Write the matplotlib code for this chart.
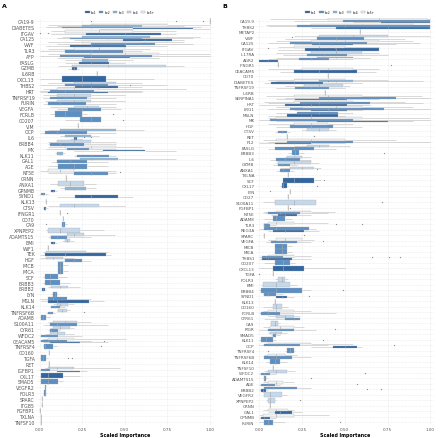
import matplotlib
matplotlib.use("Agg")
import matplotlib.pyplot as plt
from matplotlib.patches import Patch

# ---------------- data ----------------
features_A = ["CA19-9", "DIABETES", "ITGAV", "CA125", "VWF", "TLR3", "AFP", "FASLG", "GZMB", "IL6RB",
              "CXCL13", "THBS2", "HRT", "TNFRSF19", "FURIN", "VEGFA", "FCRLB", "CD207", "VIM", "OCP",
              "IL6", "ERBB4", "MK", "KLK11", "GAL1", "AGE", "NT5E", "CRNN", "ANXA1", "GPNMB",
              "SYND1", "KLK13", "CTSV", "IFNGR1", "CD70", "CA9", "XPNPEP2", "ADAMTS15", "BMI", "WIF1",
              "TEK", "HGF", "MICB", "MICA", "SCF", "ERBB3", "ERBB2", "LYN", "MSLN", "KLK14",
              "TNFRSF6B", "ADAM8", "S100A11", "CYR61", "WFDC2", "CEACAM5", "TNFRSF4", "CD160", "TGFA", "RET",
              "IGFBP1", "CXL17", "SMAD5", "VEGFR2", "FOLR3", "SPARC", "ITGB5", "FGFBP1", "TXLNA", "TNFSF10"]

# (whisker low, q1, median, q3, whisker high)
A_k1 = {
    "CA19-9": (1.0, 1.0, 1.0, 1.0, 1.0), "DIABETES": (0.35, 0.55, 0.72, 0.90, 1.0),
    "ITGAV": (0.07, 0.27, 0.50, 0.71, 0.80), "CA125": (0.20, 0.49, 0.62, 0.78, 0.85),
    "VWF": (0.04, 0.18, 0.30, 0.51, 0.75), "AFP": (0.10, 0.26, 0.40, 0.53, 0.70),
    "FASLG": (0.15, 0.23, 0.30, 0.41, 0.50), "GZMB": (0.17, 0.19, 0.20, 0.22, 0.23),
    "IL6RB": (0.34, 0.34, 0.34, 0.34, 0.34), "CXCL13": (0.0, 0.13, 0.25, 0.39, 0.67),
    "THBS2": (0.10, 0.21, 0.30, 0.46, 0.60), "HRT": (0.0, 0.05, 0.25, 0.40, 0.60),
    "VIM": (0.225, 0.225, 0.225, 0.225, 0.225), "IL6": (0.18, 0.20, 0.21, 0.22, 0.25),
    "MK": (0.20, 0.37, 0.45, 0.62, 0.80), "CRNN": (0.155, 0.155, 0.155, 0.155, 0.155),
    "GPNMB": (0.06, 0.07, 0.08, 0.09, 0.10), "SYND1": (0.10, 0.21, 0.30, 0.46, 0.55),
    "KLK13": (0.04, 0.04, 0.04, 0.04, 0.04), "CTSV": (0.02, 0.025, 0.03, 0.04, 0.05),
    "IFNGR1": (0.12, 0.12, 0.12, 0.12, 0.12), "CD70": (0.135, 0.135, 0.135, 0.135, 0.135),
    "BMI": (0.065, 0.07, 0.08, 0.09, 0.10), "WIF1": (0.05, 0.05, 0.05, 0.05, 0.05),
    "TEK": (0.0, 0.03, 0.15, 0.39, 0.42), "ERBB2": (0.01, 0.015, 0.02, 0.03, 0.04),
    "MSLN": (0.01, 0.05, 0.10, 0.29, 0.38), "CEACAM5": (0.02, 0.06, 0.12, 0.24, 0.40),
    "CD160": (0.057, 0.057, 0.057, 0.057, 0.057), "RET": (0.053, 0.053, 0.053, 0.053, 0.053),
    "IGFBP1": (0.10, 0.10, 0.17, 0.24, 0.28), "CXL17": (0.0, 0.01, 0.05, 0.14, 0.24),
    "SPARC": (0.015, 0.015, 0.015, 0.015, 0.015), "ITGB5": (0.015, 0.015, 0.015, 0.015, 0.015),
    "FGFBP1": (0.005, 0.005, 0.005, 0.005, 0.005), "TXLNA": (0.006, 0.006, 0.006, 0.006, 0.006),
    "TNFSF10": (0.006, 0.006, 0.006, 0.006, 0.006),
}
A_k2 = {
    "DIABETES": (0.04, 0.13, 0.30, 0.55, 0.95), "CA125": (0.10, 0.18, 0.40, 0.60, 0.90),
    "VWF": (0.10, 0.30, 0.50, 0.68, 0.90), "TLR3": (0.0, 0.15, 0.30, 0.49, 0.60),
    "AFP": (0.0, 0.12, 0.30, 0.66, 1.0), "THBS2": (0.0, 0.15, 0.25, 0.40, 0.75),
    "HRT": (0.0, 0.06, 0.15, 0.32, 0.60), "TNFRSF19": (0.02, 0.06, 0.15, 0.28, 0.45),
    "FURIN": (0.02, 0.05, 0.12, 0.27, 0.45), "VEGFA": (0.10, 0.17, 0.25, 0.36, 0.48),
    "FCRLB": (0.06, 0.09, 0.15, 0.25, 0.28), "CD207": (0.15, 0.24, 0.30, 0.36, 0.36),
    "OCP": (0.0, 0.03, 0.10, 0.28, 0.45), "ERBB4": (0.05, 0.06, 0.12, 0.26, 0.45),
    "MK": (0.04, 0.16, 0.20, 0.29, 0.45), "KLK11": (0.20, 0.22, 0.30, 0.41, 0.45),
    "GAL1": (0.07, 0.10, 0.18, 0.28, 0.40), "AGE": (0.05, 0.11, 0.20, 0.28, 0.40),
    "NT5E": (0.05, 0.20, 0.30, 0.40, 0.45), "SYND1": (0.0, 0.01, 0.02, 0.03, 0.05),
    "CA9": (0.13, 0.13, 0.14, 0.15, 0.16), "ADAMTS15": (0.05, 0.07, 0.10, 0.16, 0.30),
    "HGF": (0.10, 0.15, 0.20, 0.25, 0.30), "MICB": (0.11, 0.11, 0.12, 0.14, 0.17),
    "MICA": (0.11, 0.11, 0.12, 0.14, 0.17), "SCF": (0.02, 0.03, 0.06, 0.11, 0.16),
    "ERBB3": (0.02, 0.03, 0.06, 0.12, 0.18), "LYN": (0.07, 0.08, 0.09, 0.10, 0.11),
    "MSLN": (0.0, 0.05, 0.08, 0.16, 0.30), "KLK14": (0.06, 0.07, 0.09, 0.12, 0.15),
    "TNFRSF6B": (0.04, 0.05, 0.06, 0.08, 0.09), "ADAM8": (0.0, 0.01, 0.02, 0.04, 0.06),
    "S100A11": (0.02, 0.06, 0.10, 0.22, 0.40), "CYR61": (0.05, 0.06, 0.07, 0.11, 0.12),
    "WFDC2": (0.0, 0.01, 0.03, 0.11, 0.25), "CEACAM5": (0.0, 0.01, 0.05, 0.16, 0.30),
    "TNFRSF4": (0.02, 0.025, 0.03, 0.08, 0.10), "TGFA": (0.0, 0.01, 0.02, 0.04, 0.05),
    "IGFBP1": (0.0, 0.01, 0.03, 0.06, 0.10), "SMAD5": (0.0, 0.01, 0.05, 0.11, 0.14),
    "VEGFR2": (0.025, 0.03, 0.033, 0.036, 0.04), "FOLR3": (0.02, 0.025, 0.03, 0.04, 0.045),
}
A_k3 = {
    "DIABETES": (0.10, 0.25, 0.45, 0.60, 0.85), "CA125": (0.13, 0.25, 0.45, 0.65, 0.94),
    "FASLG": (0.15, 0.25, 0.32, 0.40, 0.55), "OCP": (0.05, 0.12, 0.25, 0.45, 0.61),
    "IL6": (0.12, 0.15, 0.20, 0.30, 0.35), "KLK11": (0.09, 0.10, 0.12, 0.14, 0.15),
    "GAL1": (0.10, 0.24, 0.30, 0.46, 0.80), "GPNMB": (0.12, 0.15, 0.20, 0.27, 0.33),
}
A_k4 = {
    "GZMB": (0.11, 0.19, 0.40, 0.74, 0.85), "THBS2": (0.05, 0.20, 0.30, 0.45, 0.60),
    "TNFRSF19": (0.02, 0.10, 0.20, 0.30, 0.50), "FURIN": (0.03, 0.10, 0.20, 0.30, 0.50),
    "VEGFA": (0.06, 0.20, 0.28, 0.35, 0.45), "ERBB4": (0.05, 0.10, 0.20, 0.30, 0.45),
    "ANXA1": (0.06, 0.11, 0.18, 0.26, 0.33), "CTSV": (0.05, 0.12, 0.20, 0.35, 0.50),
    "XPNPEP2": (0.04, 0.05, 0.12, 0.24, 0.38), "ADAMTS15": (0.06, 0.16, 0.20, 0.26, 0.44),
    "BMI": (0.13, 0.15, 0.16, 0.18, 0.20), "TEK": (0.02, 0.04, 0.15, 0.27, 0.40),
    "HGF": (0.0, 0.04, 0.08, 0.14, 0.20), "ERBB2": (0.05, 0.07, 0.12, 0.17, 0.24),
    "KLK14": (0.08, 0.10, 0.12, 0.17, 0.20), "TNFRSF6B": (0.10, 0.11, 0.13, 0.16, 0.18),
    "S100A11": (0.05, 0.08, 0.15, 0.22, 0.30), "CYR61": (0.06, 0.08, 0.12, 0.18, 0.20),
    "WFDC2": (0.03, 0.06, 0.10, 0.15, 0.20), "IGFBP1": (0.03, 0.05, 0.10, 0.20, 0.47),
}
A_k5 = {
    "DIABETES": (0.05, 0.30, 0.50, 0.75, 1.0), "ITGAV": (0.07, 0.15, 0.35, 0.55, 0.80),
    "VWF": (0.05, 0.25, 0.40, 0.60, 0.85), "TLR3": (0.05, 0.20, 0.35, 0.50, 0.65),
    "AFP": (0.05, 0.30, 0.50, 0.70, 1.0), "HRT": (0.02, 0.10, 0.20, 0.35, 0.86),
    "MK": (0.05, 0.15, 0.30, 0.45, 0.60), "NT5E": (0.0, 0.05, 0.12, 0.20, 0.45),
    "CEACAM5": (0.02, 0.05, 0.10, 0.20, 0.51),
}
outliers_A = {
    "CA19-9": [0.30, 0.80, 0.96], "ITGAV": [0.0, 0.05], "FCRLB": [0.43], "CD207": [0.49],
    "NT5E": [0.47], "IFNGR1": [0.16], "CA9": [0.04], "TNFRSF6B": [0.26], "CEACAM5": [0.38],
    "TNFRSF4": [0.36], "TGFA": [0.17, 0.19], "THBS2": [0.53], "IL6": [0.26, 0.30],
}

features_B = ["CA19-9", "THBS2", "METAP2", "VWF", "CA125", "ITGAV", "IL17RA", "AGR2", "IFNGR1", "CEACAM5",
              "CD70", "DIABETES", "TNFRSF19", "IL6RB", "SERPINA1", "HRT", "LRG1", "MSLN", "MK", "HGF",
              "CTSV", "RET", "F12", "FASLG", "ERBB3", "IL6", "GZMB", "ANXA1", "TXLNA", "SCF",
              "CXL17", "LYN", "CD27", "S100A11", "FGFBP1", "NT5E", "ADAM8", "TLR3", "REG3A", "SPARC",
              "VEGFA", "MICB", "MICA", "THBS1", "CD207", "CXCL13", "TGFA", "FOLR3", "BMI", "ERBB4",
              "SYND1", "KLK13", "CD160", "FCRLB", "CYR61", "CA9", "PIGR", "SMAD5", "KLK11", "OCP",
              "TNFRSF4", "TNFRSF6B", "KLK14", "TNFSF10", "WFDC2", "ADAMTS15", "AGE", "ERBB2", "VEGFR2", "XPNPEP2",
              "CRNN", "GAL1", "GPNMB", "FURIN"]

B_k1 = {
    "CA19-9": (0.55, 0.71, 0.90, 1.0, 1.0), "THBS2": (0.30, 0.45, 0.75, 1.0, 1.0),
    "METAP2": (0.59, 0.59, 0.59, 0.59, 0.59), "CA125": (0.20, 0.31, 0.42, 0.55, 0.80),
    "ITGAV": (0.11, 0.27, 0.45, 0.70, 0.70), "AGR2": (0.0, 0.0, 0.05, 0.11, 0.11),
    "IFNGR1": (0.11, 0.11, 0.11, 0.11, 0.11), "CEACAM5": (0.12, 0.20, 0.35, 0.57, 0.68),
    "CD70": (0.40, 0.40, 0.40, 0.40, 0.40), "DIABETES": (0.03, 0.07, 0.20, 0.375, 0.60),
    "IL6RB": (0.385, 0.385, 0.385, 0.385, 0.385), "SERPINA1": (0.10, 0.21, 0.35, 0.51, 0.70),
    "HRT": (0.0, 0.15, 0.30, 0.51, 0.65), "LRG1": (0.20, 0.30, 0.40, 0.51, 0.60),
    "MSLN": (0.05, 0.16, 0.30, 0.46, 0.50), "MK": (0.10, 0.34, 0.50, 0.75, 0.90),
    "RET": (0.16, 0.16, 0.16, 0.16, 0.16), "F12": (0.0, 0.09, 0.20, 0.30, 0.50),
    "TXLNA": (0.17, 0.17, 0.17, 0.17, 0.17), "SCF": (0.14, 0.14, 0.20, 0.32, 0.36),
    "CXL17": (0.12, 0.13, 0.14, 0.16, 0.17), "LYN": (0.18, 0.18, 0.18, 0.18, 0.18),
    "CD27": (0.165, 0.165, 0.165, 0.165, 0.165), "FGFBP1": (0.165, 0.165, 0.165, 0.165, 0.165),
    "NT5E": (0.07, 0.11, 0.15, 0.22, 0.30), "REG3A": (0.05, 0.08, 0.15, 0.26, 0.35),
    "SPARC": (0.025, 0.025, 0.025, 0.025, 0.025), "THBS1": (0.0, 0.015, 0.05, 0.19, 0.30),
    "CXCL13": (0.0, 0.08, 0.14, 0.26, 0.50), "TGFA": (0.08, 0.08, 0.08, 0.08, 0.08),
    "SYND1": (0.10, 0.10, 0.13, 0.16, 0.20), "KLK13": (0.09, 0.09, 0.09, 0.09, 0.09),
    "OCP": (0.30, 0.43, 0.50, 0.57, 0.60), "TNFSF10": (0.08, 0.08, 0.08, 0.08, 0.08),
    "ERBB2": (0.0, 0.01, 0.02, 0.04, 0.05), "CRNN": (0.06, 0.06, 0.06, 0.06, 0.06),
    "GAL1": (0.05, 0.09, 0.12, 0.19, 0.25), "GPNMB": (0.0, 0.01, 0.03, 0.06, 0.10),
}
B_k2 = {
    "CA19-9": (0.20, 0.49, 0.70, 1.0, 1.0), "THBS2": (0.05, 0.22, 0.50, 1.0, 1.0),
    "VWF": (0.15, 0.34, 0.45, 0.61, 0.85), "CA125": (0.05, 0.18, 0.35, 0.63, 0.94),
    "IL17RA": (0.14, 0.28, 0.38, 0.51, 0.75), "AGR2": (0.05, 0.23, 0.30, 0.41, 0.55),
    "TNFRSF19": (0.10, 0.21, 0.30, 0.41, 0.50), "SERPINA1": (0.15, 0.35, 0.50, 0.80, 1.0),
    "HRT": (0.05, 0.24, 0.35, 0.65, 0.96), "LRG1": (0.05, 0.18, 0.40, 0.73, 1.0),
    "MSLN": (0.10, 0.22, 0.35, 0.46, 0.55), "MK": (0.0, 0.06, 0.20, 0.55, 1.0),
    "HGF": (0.10, 0.18, 0.30, 0.43, 0.60), "CTSV": (0.09, 0.11, 0.13, 0.16, 0.18),
    "F12": (0.05, 0.16, 0.30, 0.55, 1.0), "FASLG": (0.05, 0.09, 0.20, 0.32, 0.45),
    "ERBB3": (0.17, 0.19, 0.21, 0.23, 0.26), "IL6": (0.06, 0.10, 0.15, 0.24, 0.30),
    "GZMB": (0.08, 0.11, 0.13, 0.18, 0.22), "ANXA1": (0.10, 0.12, 0.14, 0.18, 0.20),
    "NT5E": (0.03, 0.05, 0.12, 0.24, 0.40), "ADAM8": (0.03, 0.08, 0.10, 0.15, 0.19),
    "TLR3": (0.02, 0.025, 0.03, 0.06, 0.10), "REG3A": (0.0, 0.03, 0.10, 0.29, 0.33),
    "VEGFA": (0.04, 0.07, 0.12, 0.22, 0.30), "MICB": (0.09, 0.09, 0.13, 0.16, 0.19),
    "MICA": (0.09, 0.09, 0.13, 0.16, 0.19), "THBS1": (0.0, 0.015, 0.04, 0.14, 0.20),
    "CD207": (0.03, 0.09, 0.14, 0.18, 0.21), "ERBB4": (0.0, 0.01, 0.10, 0.25, 0.30),
    "SYND1": (0.02, 0.025, 0.05, 0.10, 0.14), "FCRLB": (0.0, 0.01, 0.05, 0.12, 0.45),
    "CYR61": (0.03, 0.15, 0.20, 0.24, 0.24), "PIGR": (0.0, 0.05, 0.10, 0.20, 0.33),
    "SMAD5": (0.07, 0.08, 0.09, 0.10, 0.12), "KLK11": (0.0, 0.01, 0.04, 0.08, 0.10),
    "OCP": (0.0, 0.03, 0.10, 0.24, 0.40), "TNFRSF4": (0.15, 0.16, 0.18, 0.20, 0.21),
    "TNFRSF6B": (0.03, 0.03, 0.10, 0.19, 0.30), "KLK14": (0.04, 0.06, 0.09, 0.12, 0.16),
    "WFDC2": (0.0, 0.01, 0.03, 0.06, 0.10), "ADAMTS15": (0.02, 0.025, 0.03, 0.04, 0.05),
    "AGE": (0.0, 0.01, 0.05, 0.09, 0.12), "ERBB2": (0.02, 0.03, 0.08, 0.22, 0.30),
    "FURIN": (0.0, 0.03, 0.05, 0.08, 0.15),
}
B_k3 = {
    "AGR2": (0.10, 0.34, 0.45, 0.55, 0.65), "DIABETES": (0.10, 0.35, 0.45, 0.55, 0.96),
}
B_k4 = {
    "VWF": (0.20, 0.35, 0.55, 0.75, 1.0), "IL17RA": (0.10, 0.30, 0.45, 0.60, 0.70),
    "TNFRSF19": (0.15, 0.26, 0.35, 0.49, 0.53), "CTSV": (0.25, 0.28, 0.35, 0.41, 0.45),
    "FASLG": (0.20, 0.28, 0.35, 0.41, 0.53), "IL6": (0.15, 0.16, 0.20, 0.25, 0.30),
    "GZMB": (0.10, 0.11, 0.20, 0.30, 0.35), "ANXA1": (0.12, 0.18, 0.25, 0.32, 0.36),
    "S100A11": (0.02, 0.09, 0.20, 0.33, 0.33), "FOLR3": (0.09, 0.11, 0.13, 0.15, 0.17),
    "BMI": (0.01, 0.02, 0.10, 0.18, 0.22), "CD160": (0.02, 0.08, 0.10, 0.13, 0.17),
    "CA9": (0.06, 0.07, 0.09, 0.11, 0.12), "SMAD5": (0.05, 0.06, 0.09, 0.13, 0.16),
    "WFDC2": (0.03, 0.05, 0.10, 0.16, 0.21), "VEGFR2": (0.03, 0.03, 0.06, 0.13, 0.16),
    "XPNPEP2": (0.04, 0.05, 0.06, 0.09, 0.10), "CYR61": (0.05, 0.10, 0.15, 0.20, 0.24),
}
B_k5 = {
    "CA19-9": (0.06, 0.40, 0.70, 0.98, 1.0), "THBS2": (0.04, 0.30, 0.60, 0.90, 1.0),
    "CA125": (0.10, 0.30, 0.50, 0.70, 0.90), "ITGAV": (0.11, 0.20, 0.35, 0.50, 0.70),
    "CEACAM5": (0.05, 0.25, 0.40, 0.55, 0.70),
    "DIABETES": (0.05, 0.20, 0.35, 0.50, 0.75), "SERPINA1": (0.04, 0.20, 0.40, 0.60, 0.95),
    "HRT": (0.03, 0.20, 0.40, 0.55, 0.85), "LRG1": (0.10, 0.25, 0.45, 0.60, 0.90),
    "MK": (0.05, 0.10, 0.30, 0.60, 1.0), "HGF": (0.05, 0.20, 0.30, 0.40, 0.55),
    "F12": (0.02, 0.10, 0.30, 0.50, 0.80), "NT5E": (0.02, 0.10, 0.20, 0.30, 0.44),
    "TLR3": (0.02, 0.05, 0.10, 0.20, 0.40), "VEGFA": (0.05, 0.10, 0.15, 0.25, 0.32),
    "THBS1": (0.02, 0.05, 0.10, 0.20, 0.30), "FCRLB": (0.02, 0.05, 0.10, 0.20, 0.30),
    "PIGR": (0.02, 0.06, 0.12, 0.20, 0.26), "OCP": (0.02, 0.05, 0.15, 0.30, 0.55),
    "TNFRSF6B": (0.03, 0.05, 0.10, 0.15, 0.22), "AGE": (0.02, 0.05, 0.10, 0.14, 0.20),
    "GAL1": (0.02, 0.05, 0.10, 0.17, 0.20), "GPNMB": (0.0, 0.02, 0.10, 0.20, 0.41),
}
outliers_B = {
    "CA19-9": [0.64], "VWF": [0.19], "ITGAV": [0.05, 0.44], "IFNGR1": [0.77], "DIABETES": [0.40],
    "RET": [0.32], "ERBB3": [0.73], "ANXA1": [0.34], "SCF": [0.38], "CXL17": [0.34], "LYN": [0.06],
    "S100A11": [0.72], "FGFBP1": [0.18], "TLR3": [0.45, 0.60], "SPARC": [0.26], "VEGFA": [0.37],
    "THBS1": [0.66, 0.76, 0.82], "TGFA": [0.0], "ERBB4": [0.49], "SYND1": [0.29], "PIGR": [0.44],
    "KLK11": [0.37], "OCP": [0.79], "TNFRSF4": [0.05], "WFDC2": [0.62], "ADAMTS15": [0.30],
    "AGE": [0.57], "ERBB2": [0.63, 0.71], "XPNPEP2": [0.24], "FURIN": [0.47],
}

group_labels = ["k=1", "k=2", "k=3", "k=4", "k=5+"]
group_colors = ["#1a5597", "#4a84bf", "#80b0d8", "#c0d5e8", "#eef1f5"]
x_ticks = [0.0, 0.25, 0.5, 0.75, 1.0]
x_tick_labels = ["0.00", "0.25", "0.50", "0.75", "1.00"]

# ---------------- drawing ----------------
EDGE = "#a8a8a8"
WHISK = "#c4c4c4"
GRID = "#dedede"

fig = plt.figure(figsize=(4.40, 4.39), dpi=100)
W, H = 440.0, 439.0


def draw_panel(rect, feats, groups, outliers, letter, fs, letter_x):
    ax = fig.add_axes(rect)
    n = len(feats)
    for i, f in enumerate(feats):
        y0 = n - i
        present = [(g, d[f]) for g, d in enumerate(groups) if f in d]
        m = len(present)
        w = 0.9 / m
        for j, (g, (lo, q1, med, q3, hi)) in enumerate(present):
            yc = y0 - 0.45 + w * (j + 0.5)
            ax.hlines(yc, lo, q1, color=WHISK, lw=0.45, zorder=2)
            ax.hlines(yc, q3, hi, color=WHISK, lw=0.45, zorder=2)
            ax.barh(yc, q3 - q1, left=q1, height=w, color=group_colors[g], alpha=0.9,
                    edgecolor=EDGE, linewidth=0.25, zorder=3)
            ax.vlines(med, yc - w / 2, yc + w / 2, color=EDGE, lw=0.45, zorder=4)
        for v in outliers.get(f, []):
            ax.plot([v], [y0], "o", ms=0.9, mec="none", color="#8c8c8c", zorder=5)
    ax.set_ylim(0.4, n + 0.6)
    ax.set_yticks(range(1, n + 1))
    ax.set_yticklabels(list(reversed(feats)), fontsize=fs, color="#555555")
    ax.set_xticks(x_ticks)
    ax.set_xticklabels(x_tick_labels, fontsize=3.0, color="#555555")
    ax.tick_params(length=0, pad=1.0)
    ax.grid(True, ls=(0, (1, 1.5)), color=GRID, lw=0.4, zorder=0)
    ax.set_axisbelow(True)
    for s in ax.spines.values():
        s.set_visible(False)
    ax.set_xlabel("Scaled Importance", fontsize=3.4, fontweight="bold", labelpad=0.5)
    handles = [Patch(facecolor=c, edgecolor=EDGE, linewidth=0.3) for c in group_colors]
    ax.legend(handles, group_labels, loc="lower center", bbox_to_anchor=(0.47, 1.005), ncol=5,
              frameon=False, fontsize=2.0, handlelength=1.6, handleheight=1.1,
              columnspacing=1.0, handletextpad=0.4, borderpad=0.1)
    fig.text(letter_x / W, 1 - 6 / H, letter, fontsize=4.5, fontweight="bold", va="center", ha="left")
    return ax


def panel_rect(zero_px, one_px, top_px, bottom_px):
    scale = one_px - zero_px
    left = zero_px - 3.5
    right = one_px + 4.0
    return [left / W, 1 - bottom_px / H, (right - left) / W, (bottom_px - top_px) / H], scale


rectA, sA = panel_rect(39.5, 210.0, 18.5, 426.5)
axA = draw_panel(rectA, features_A, [A_k1, A_k2, A_k3, A_k4, A_k5], outliers_A, "A", 3.3, 2)
axA.set_xlim(-3.5 / sA, 1 + 4.0 / sA)

rectB, sB = panel_rect(259.3, 430.3, 18.5, 426.5)
axB = draw_panel(rectB, features_B, [B_k1, B_k2, B_k3, B_k4, B_k5], outliers_B, "B", 3.0, 222)
axB.set_xlim(-3.5 / sB, 1 + 4.0 / sB)

fig.savefig("out.png", dpi=100)
